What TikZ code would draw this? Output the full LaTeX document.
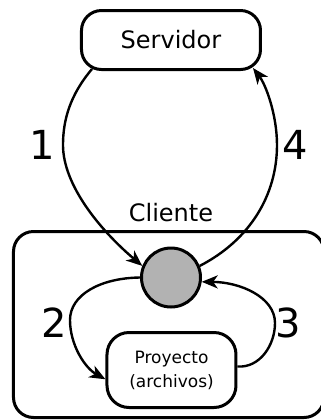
\documentclass[tikz,border=0pt]{standalone}
\usepackage{fontspec}
\setmainfont{DejaVu Sans}
\usetikzlibrary{arrows.meta}
\begin{document}
\begin{tikzpicture}[x=0.5pt,y=-0.5pt,font=\fontsize{12}{14.4}\selectfont,
        >={Stealth[length=8pt,width=6.5pt,inset=2.3pt]},
        caja/.style={draw,line width=1.5pt,rounded corners=10pt,align=center,inner sep=0pt},
        flecha/.style={->,line width=1.2pt},
        num/.style={font=\fontsize{20}{24}\selectfont}]
        \useasboundingbox (0,0) rectangle (321,420);
        \node[caja,minimum width=155.25pt,minimum height=93pt] (K) at (168.75,324.5) {};
        \node (L) at (171,213) {Cliente};
        \node[caja,minimum width=89.5pt,minimum height=29.5pt] (S) at (171,40) {Servidor};
        \node[draw,circle,fill=black!30,line width=1.5pt,minimum size=29.5pt,inner sep=0pt] (C) at (171,277.5) {};
        \node[caja,minimum width=64.5pt,minimum height=37.5pt,rounded corners=11pt,
            font=\fontsize{8.5}{12}\selectfont] (P) at (171.5,370) {Proyecto\\(archivos)};
        \draw [flecha] ([shift={(12,-2)}]S.south west) .. controls (70,95) and (63,120) .. (63,145)
            .. controls (63,185) and (100,230) .. (C.158);
        \draw [flecha] (C.22) .. controls (250,240) and (277,195) .. (277,145)
            .. controls (277,115) and (266,85) .. ([shift={(-9,-3)}]S.south east);
        \draw [flecha] (C.180) .. controls (100,278) and (70,295) .. (70,320)
            .. controls (70,345) and (85,368) .. (P.188);
        \draw [flecha] (P.3) .. controls (260,368) and (275,345) .. (275,323)
            .. controls (275,297) and (240,282) .. (C.-8);
        \node[num] (n1) at (42,145) {1};
        \node[num] (n4) at (295,145) {4};
        \node[num] (n2) at (54,323) {2};
        \node[num] (n3) at (288,323) {3};
\end{tikzpicture}
\end{document}
